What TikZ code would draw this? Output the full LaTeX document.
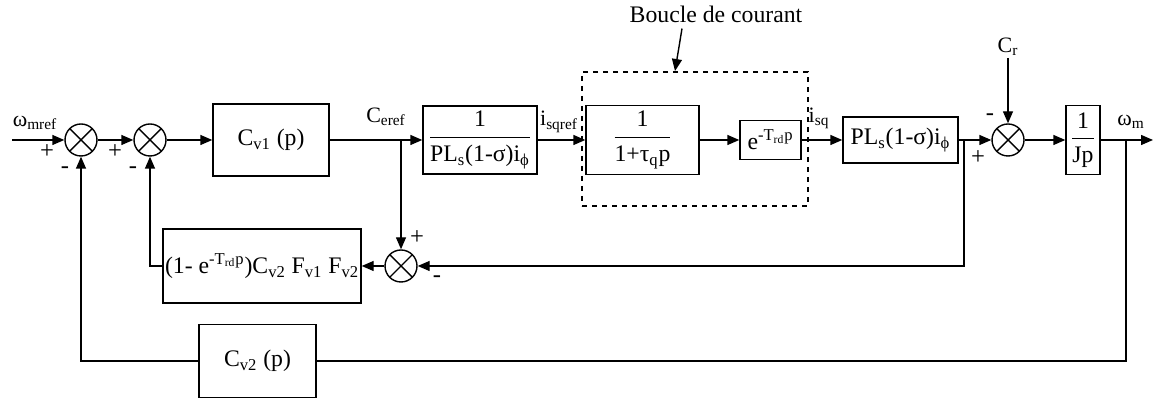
\documentclass[tikz,border=0pt]{standalone}
\usepackage{amsmath}
\usepackage{fontspec}
\setmainfont{Liberation Serif}
\usetikzlibrary{arrows.meta}
\tikzset{
  blk/.style={rectangle,draw,line width=0.8pt,align=center,inner sep=1pt,
    font=\fontsize{13.5}{16}\selectfont},
  sum/.style={circle,draw,line width=0.8pt,minimum size=0.64cm,inner sep=0pt,
    path picture={\draw[line width=0.8pt]
      (path picture bounding box.north west) -- (path picture bounding box.south east)
      (path picture bounding box.north east) -- (path picture bounding box.south west);}},
  lbl/.style={font=\fontsize{12.5}{14}\selectfont,inner sep=1pt},
  sgn/.style={font=\fontsize{14}{15}\selectfont,inner sep=0pt},
  arr/.style={-{Triangle[length=2.4mm,width=2mm]},line width=0.8pt},
  wire/.style={line width=0.8pt},
  % dotted frame round the current loop
  loopbox/.style={rectangle,draw,line width=1.1pt,dash pattern=on 1mm off 1mm}
}
\newcommand{\sbs}[1]{\textsubscript{#1}}
\newcommand{\tf}[2]{$\dfrac{\text{#1}}{\text{#2}}$}

\begin{document}
\begin{tikzpicture}
  \useasboundingbox (0,0) rectangle (23.1,7.98);
  % forward path
  \node[sum] (s1) at (1.62,5.18) {};
  \node[sum] (s2) at (3.00,5.18) {};
  \node[blk,minimum width=2.32cm,minimum height=1.44cm] (cv1) at (5.42,5.18) {C\sbs{v1} (p)};
  \node[blk,minimum width=2.28cm,minimum height=1.36cm] (pl1) at (9.60,5.18) {\tf{1}{PL\sbs{s}(1-σ)i\sbs{ϕ}}};
  \node[blk,minimum width=2.26cm,minimum height=1.38cm] (tq) at (12.85,5.18) {\tf{1}{1+τ\sbs{q}p}};
  \node[blk,minimum width=1.22cm,minimum height=0.78cm] (ed) at (15.41,5.18) {e\textsuperscript{-T\sbs{rd}p}};
  \node[blk,minimum width=2.30cm,minimum height=0.92cm] (pl2) at (18.01,5.18) {PL\sbs{s}(1-σ)i\sbs{ϕ}};
  \node[sum] (s3) at (20.16,5.18) {};
  \node[blk,minimum width=0.68cm,minimum height=1.38cm] (jp) at (21.66,5.18) {\tf{1}{Jp}};
  \node[loopbox,minimum width=4.52cm,minimum height=2.68cm] (loop) at (13.90,5.20) {};
  % feedback paths
  \node[sum] (s4) at (8.02,2.66) {};
  \node[blk,minimum width=3.96cm,minimum height=1.48cm] (fb) at (5.24,2.66) {(1- e\textsuperscript{-T\sbs{rd}p})C\sbs{v2} F\sbs{v1} F\sbs{v2}};
  \node[blk,minimum width=2.34cm,minimum height=1.46cm] (cv2) at (5.15,0.76) {C\sbs{v2} (p)};

  \coordinate (in) at (0.24,5.18);
  \coordinate (b1) at (8.02,5.18);
  \coordinate (b2) at (19.28,5.18);
  \coordinate (b3) at (22.52,5.18);
  \coordinate (out) at (23.06,5.18);

  % signal names
  \node[lbl] (wref) at (0.70,5.52) {ω\sbs{mref}};
  \node[lbl] (ceref) at (7.72,5.64) {C\sbs{eref}};
  \node[lbl] (isqref) at (11.18,5.54) {i\sbs{sqref}};
  \node[lbl] (isq) at (16.38,5.62) {i\sbs{sq}};
  \node[lbl] (wm) at (22.62,5.54) {ω\sbs{m}};
  \node[lbl] (cr) at (20.16,7.04) {C\sbs{r}};
  \node[font=\fontsize{13.5}{16}\selectfont] (bc) at (14.32,7.70) {Boucle de courant};

  % signs
  \node[sgn] (p1) at (0.94,4.94) {+};
  \node[sgn] (m1) at (1.30,4.58) {-};
  \node[sgn] (p2) at (2.30,4.94) {+};
  \node[sgn] (m2) at (2.66,4.58) {-};
  \node[sgn] (m3) at (19.80,5.64) {-};
  \node[sgn] (p3) at (19.56,4.82) {+};
  \node[sgn] (p4) at (8.34,3.22) {+};
  \node[sgn] (m4) at (8.74,2.40) {-};

  \draw[arr] (in) -- (s1);
  \draw[arr] (s1) -- (s2);
  \draw[arr] (s2) -- (cv1);
  \draw[arr] (cv1) -- (pl1);
  \draw[arr] (pl1) -- (tq);
  \draw[arr] (tq) -- (ed);
  \draw[arr] (ed) -- (pl2);
  \draw[arr] (pl2) -- (s3);
  \draw[arr] (s3) -- (jp);
  \draw[arr] (jp) -- (out);
  \draw[arr] (cr) -- (s3);
  \draw[arr] (b1) -- (s4);
  \draw[arr] (b2) |- (s4);
  \draw[arr] (s4) -- (fb);
  \draw[arr] (fb) -| (s2);
  \draw[wire] (b3) |- (cv2);
  \draw[arr] (cv2) -| (s1);
  \draw[arr] ([xshift=-0.68cm]bc.south) -- ([xshift=-0.4cm]loop.north);
\end{tikzpicture}
\end{document}
